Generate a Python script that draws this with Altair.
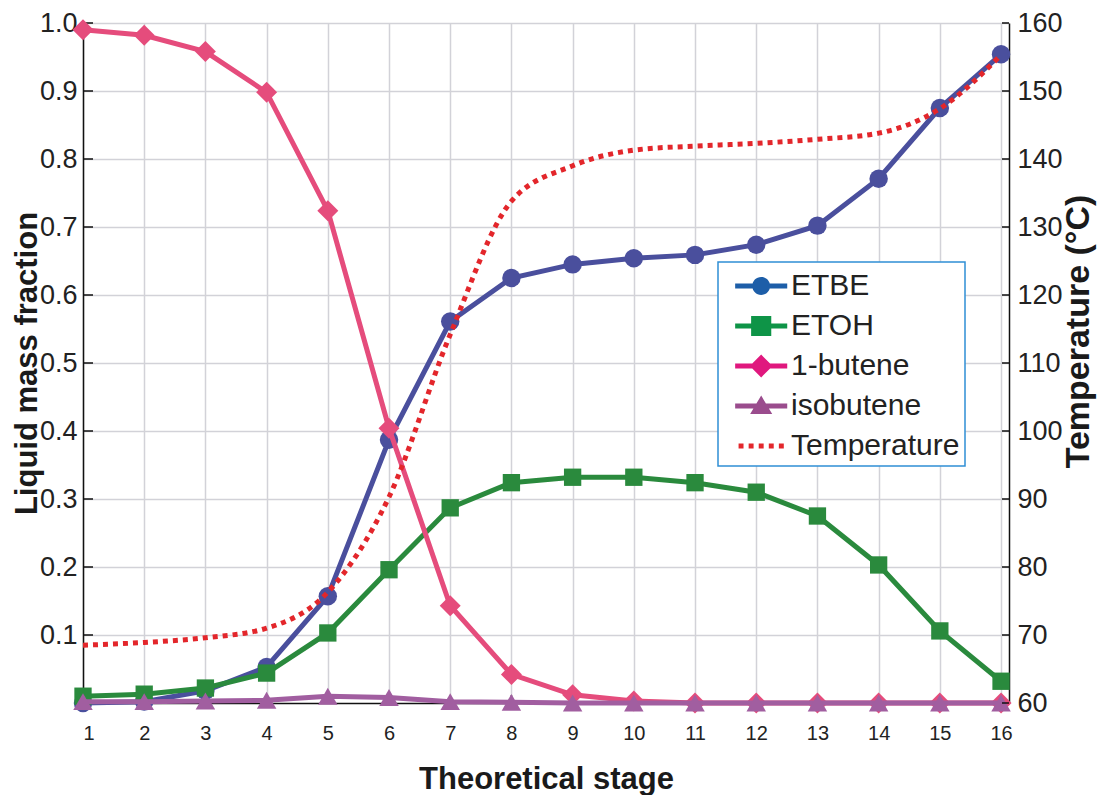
import altair as alt
import pandas as pd

# ---------------- data ----------------
stages = list(range(1, 17))
etbe = [0.000, 0.002, 0.018, 0.053, 0.157, 0.387, 0.561, 0.625, 0.645, 0.654, 0.659, 0.674, 0.702, 0.771, 0.875, 0.954]
etoh = [0.010, 0.013, 0.022, 0.044, 0.103, 0.196, 0.287, 0.324, 0.332, 0.332, 0.324, 0.310, 0.275, 0.203, 0.106, 0.032]
butene1 = [0.990, 0.982, 0.958, 0.898, 0.724, 0.404, 0.143, 0.042, 0.012, 0.003, 0.000, 0.000, 0.000, 0.000, 0.000, 0.000]
isobutene = [0.002, 0.002, 0.003, 0.004, 0.010, 0.008, 0.002, 0.001, 0.000, 0.000, 0.000, 0.000, 0.000, 0.000, 0.000, 0.000]
temperature = [68.5, 68.9, 69.6, 71.0, 76.3, 90.3, 114.2, 133.8, 139.0, 141.3, 141.9, 142.3, 142.9, 143.8, 147.4, 155.3]

series_names = ["ETBE", "ETOH", "1-butene", "isobutene", "Temperature"]
frac_ticks = [0.1, 0.2, 0.3, 0.4, 0.5, 0.6, 0.7, 0.8, 0.9, 1.0]
temp_ticks = [60, 70, 80, 90, 100, 110, 120, 130, 140, 150, 160]

# ---------------- styles ----------------
plot_colors = {"ETBE": "#4A4F9D", "ETOH": "#2A8A3D", "1-butene": "#E54C7C", "isobutene": "#A15EA0"}
plot_shapes = {"ETBE": "circle", "ETOH": "square", "1-butene": "diamond", "isobutene": "triangle-up"}
plot_sizes = {"ETBE": 340, "ETOH": 300, "1-butene": 440, "isobutene": 380}
temp_color = "#E3262B"
legend_colors = ["#1D5EA8", "#0E9447", "#E0187E", "#9A4C8D", "#E3262B"]
# legend glyphs (unit = 19 px), shifted to the right inside the symbol slot
legend_paths = [
    "M-0.36,-0.13H2.38V0.13H-0.36Z M1.48,0A0.47,0.47,0,1,1,0.54,0A0.47,0.47,0,1,1,1.48,0Z",
    "M-0.36,-0.13H2.38V0.13H-0.36Z M0.48,-0.53H1.54V0.53H0.48Z",
    "M-0.36,-0.13H2.38V0.13H-0.36Z M1.01,-0.6L1.61,0L1.01,0.6L0.41,0Z",
    "M-0.36,-0.13H2.38V0.13H-0.36Z M1.01,-0.55L1.59,0.42H0.43Z",
    "M-0.18,-0.13H0.08V0.13H-0.18Z M0.35,-0.13H0.61V0.13H0.35Z M0.88,-0.13H1.14V0.13H0.88Z "
    "M1.41,-0.13H1.67V0.13H1.41Z M1.94,-0.13H2.20V0.13H1.94Z",
]
FONT = "Liberation Sans"
GRID = "#D2D2D8"
INK = "#222222"
W, H = 926, 680

frac_df = pd.DataFrame({
    "stage": stages * 4,
    "value": etbe + etoh + butene1 + isobutene,
    "series": ["ETBE"] * 16 + ["ETOH"] * 16 + ["1-butene"] * 16 + ["isobutene"] * 16,
})
temp_df = pd.DataFrame({"stage": stages, "temp": temperature})

x_enc = alt.X(
    "stage:Q",
    scale=alt.Scale(domain=[1, 16.13], nice=False, zero=False),
    axis=alt.Axis(
        values=stages, title="Theoretical stage", grid=True, gridColor=GRID, gridWidth=1.5,
        ticks=False, labelFontSize=20, labelFont=FONT, labelColor=INK, labelPadding=20,
        titleFontSize=31, titleFont=FONT, titleFontWeight="bold", titleColor="#1a1a1a", titlePadding=21,
        domainColor="#111111", domainWidth=1.5,
    ),
)
y_enc = alt.Y(
    "value:Q",
    scale=alt.Scale(domain=[0, 1], nice=False),
    axis=alt.Axis(
        values=frac_ticks, format=".1f", title="Liquid mass fraction", grid=True, gridColor=GRID, gridWidth=1.5,
        ticks=False, labelFontSize=27, labelFont=FONT, labelColor=INK, labelPadding=6,
        titleFontSize=31, titleFont=FONT, titleFontWeight="bold", titleColor="#1a1a1a", titlePadding=-4,
        domainColor="#111111", domainWidth=1.5,
    ),
)
t_enc = alt.Y(
    "temp:Q",
    scale=alt.Scale(domain=[60, 160], nice=False, zero=False),
    axis=alt.Axis(
        orient="right", values=temp_ticks, title="Temperature (°C)", grid=False, ticks=False,
        labelFontSize=27, labelFont=FONT, labelColor=INK, labelPadding=8,
        titleFontSize=34, titleFont=FONT, titleFontWeight="bold", titleColor="#1a1a1a", titlePadding=-1,
        titleAngle=270, titleBaseline="top", titleY=308,
        domainColor="#111111", domainWidth=1.5,
    ),
)

# inward tick marks
left_ticks = alt.Chart(pd.DataFrame({"value": frac_ticks})).mark_rule(color="#111111", strokeWidth=1.5).encode(
    y=y_enc, x=alt.value(0), x2=alt.value(10)
)
bottom_ticks = alt.Chart(pd.DataFrame({"stage": stages})).mark_rule(color="#111111", strokeWidth=1.5).encode(
    x=x_enc, y=alt.value(H), y2=alt.value(H - 8)
)
right_ticks = alt.Chart(pd.DataFrame({"temp": temp_ticks})).mark_rule(color="#111111", strokeWidth=1.5).encode(
    y=t_enc, x=alt.value(W), x2=alt.value(W - 7)
)

base = alt.Chart(frac_df)
frac_layers = [left_ticks, bottom_ticks]
for name in ["ETBE", "ETOH", "1-butene", "isobutene"]:
    sub = base.transform_filter(alt.datum.series == name)
    frac_layers.append(sub.mark_line(color=plot_colors[name], strokeWidth=5).encode(x=x_enc, y=y_enc))
    frac_layers.append(
        sub.mark_point(shape=plot_shapes[name], filled=True, size=plot_sizes[name],
                       color=plot_colors[name], opacity=1).encode(x=x_enc, y=y_enc)
    )
frac_chart = alt.layer(*frac_layers)

temp_line = alt.Chart(temp_df).mark_line(
    color=temp_color, strokeWidth=5, strokeDash=[5, 5], strokeCap="butt", interpolate="monotone"
).encode(x=x_enc, y=t_enc)
temp_chart = alt.layer(right_ticks, temp_line)

legend = alt.Legend(
    title=None, orient="none", legendX=635, legendY=239, symbolSize=1444, symbolStrokeWidth=0,
    labelFontSize=30, labelFont=FONT, labelColor=INK, labelOffset=30, rowPadding=6, labelLimit=400,
    labelExpr="datum.label + '\u00a0\u00a0'",
    padding=5, strokeColor="#2F8FD5", fillColor="white",
)
legend_proxy = alt.Chart(temp_df).transform_calculate(series="'ETBE'").transform_filter(
    alt.datum.stage > 100
).mark_point(filled=True, opacity=1).encode(
    color=alt.Color("series:N", scale=alt.Scale(domain=series_names, range=legend_colors), legend=legend),
    shape=alt.Shape("series:N", scale=alt.Scale(domain=series_names, range=legend_paths), legend=legend),
)

chart = alt.layer(frac_chart, temp_chart, legend_proxy).resolve_scale(y="independent").properties(
    width=W, height=H,
    autosize=alt.AutoSizeParams(type="none"),
    padding={"left": 75, "top": 15, "right": 88, "bottom": 92},
).configure_view(stroke=None).configure_legend(strokeWidth=1.5)

chart.save("out.html", embed_options={"renderer": "svg", "actions": False})
